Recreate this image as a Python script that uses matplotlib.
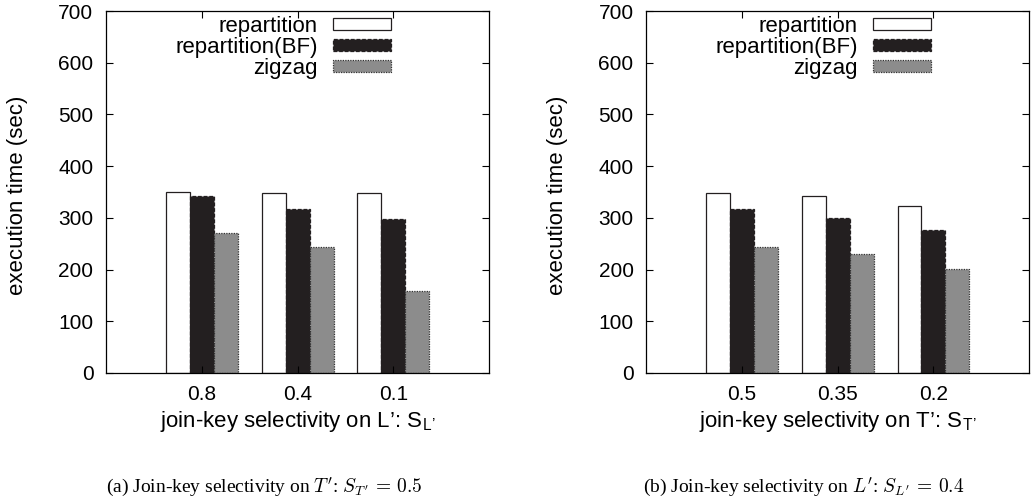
import matplotlib
matplotlib.use("Agg")
import matplotlib.pyplot as plt
import numpy as np

plt.rcParams['font.family'] = ['Liberation Sans', 'DejaVu Sans']
plt.rcParams['mathtext.fontset'] = 'cm'

series = ['repartition', 'repartition(BF)', 'zigzag']
cats_a = ['0.8', '0.4', '0.1']
vals_a = {
    'repartition': [350, 349, 349],
    'repartition(BF)': [342, 317, 297],
    'zigzag': [270, 244, 158],
}
cats_b = ['0.5', '0.35', '0.2']
vals_b = {
    'repartition': [349, 342, 322],
    'repartition(BF)': [317, 300, 276],
    'zigzag': [244, 231, 201],
}
yticks = [0, 100, 200, 300, 400, 500, 600, 700]

styles = {
    'repartition': dict(facecolor='white', edgecolor='#231f20', linestyle='-'),
    'repartition(BF)': dict(facecolor='#231f20', edgecolor='#231f20', linestyle=(0, (3, 1.5))),
    'zigzag': dict(facecolor='#8c8c8c', edgecolor='#333333', linestyle=(0, (1, 1))),
}

fig = plt.figure(figsize=(10.33, 5.04), dpi=100)
ax_a = fig.add_axes([0.1026, 0.26, 0.371, 0.718])
ax_b = fig.add_axes([0.6254, 0.26, 0.371, 0.718])

def draw(ax, cats, vals, xlabel):
    x = np.arange(1, len(cats) + 1)
    w = 0.25
    for i, s in enumerate(series):
        ax.bar(x + (i - 1) * w, vals[s], width=w, linewidth=0.9, label=s, **styles[s])
    ax.set_xlim(0, len(cats) + 1)
    ax.set_ylim(0, 700)
    ax.set_yticks(yticks)
    ax.set_xticks(x)
    ax.set_xticklabels(cats)
    ax.tick_params(direction='in', top=True, right=True, labelsize=15, length=5, pad=9)
    for sp in ax.spines.values():
        sp.set_linewidth(0.9)
    ax.set_ylabel('execution time (sec)', fontsize=16)
    ax.yaxis.set_label_coords(-0.204, 0.49)
    ax.set_xlabel(xlabel, fontsize=16, labelpad=3)
    ax.legend(loc='upper right', bbox_to_anchor=(0.744, 0.986), frameon=False, markerfirst=False,
              fontsize=16, handlelength=2.6, handleheight=0.45, labelspacing=0.0, handletextpad=0.7,
              borderaxespad=0.0, borderpad=0.0)

draw(ax_a, cats_a, vals_a, "join-key selectivity on L\u2019: S$_{\\mathregular{L\u2019}}$")
draw(ax_b, cats_b, vals_b, "join-key selectivity on T\u2019: S$_{\\mathregular{T\u2019}}$")

fig.text(0.2556, 0.024, r"(a) Join-key selectivity on $T'$: $S_{T'}\,=\,0.5$", family='Liberation Serif',
         fontsize=14, ha='center', va='baseline')
fig.text(0.778, 0.024, r"(b) Join-key selectivity on $L'$: $S_{L'}\,=\,0.4$", family='Liberation Serif',
         fontsize=14, ha='center', va='baseline')

fig.savefig('out.png', dpi=100)
